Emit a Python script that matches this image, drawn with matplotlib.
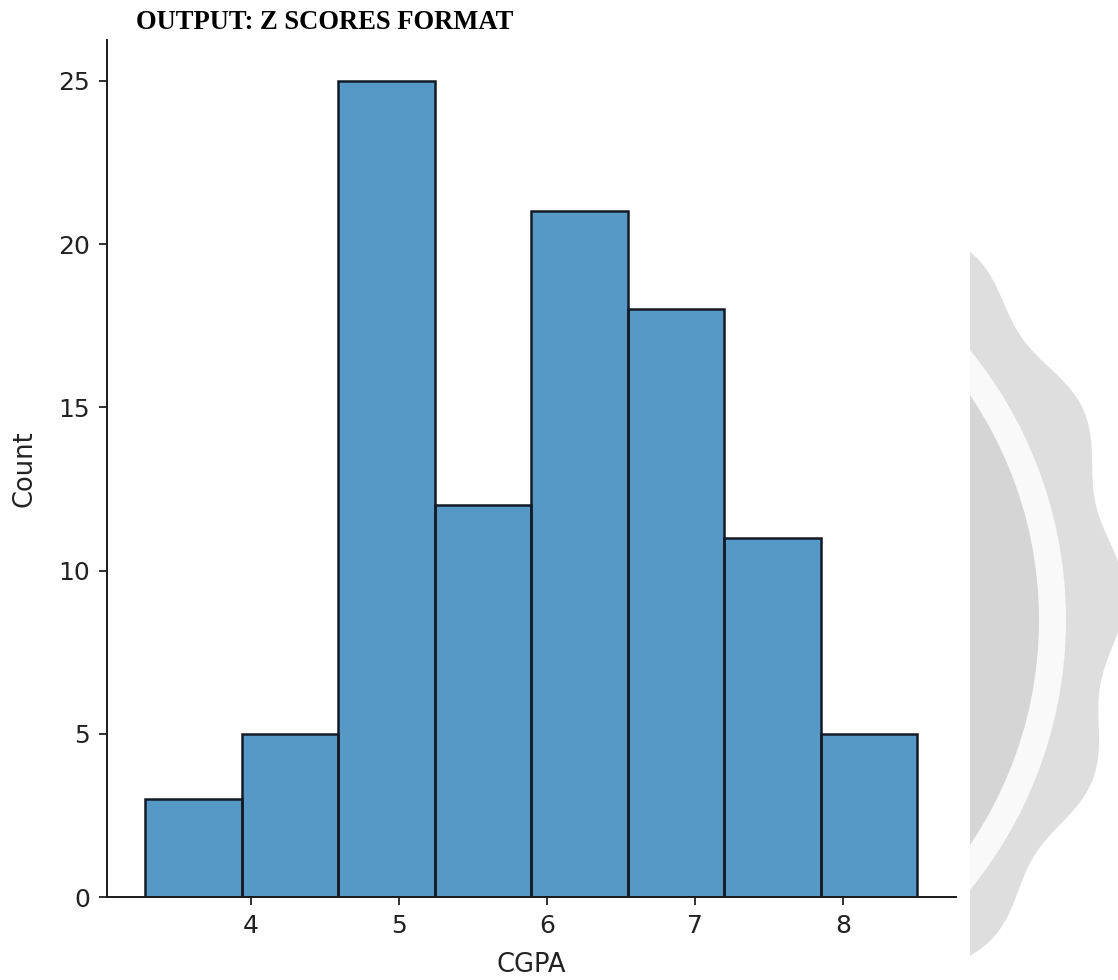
import numpy as np
import matplotlib
matplotlib.use("Agg")
import matplotlib.pyplot as plt
from matplotlib.patches import Polygon, Circle

# histogram data
cgpa_min = 3.29
cgpa_max = 8.50
counts = [3, 5, 25, 12, 21, 18, 11, 5]
x_ticks = [4, 5, 6, 7, 8]
y_ticks = [0, 5, 10, 15, 20, 25]
title = "OUTPUT: Z SCORES FORMAT"

W, H = 1118, 980
fig = plt.figure(figsize=(W / 100, H / 100), dpi=100)

# grey seal watermark on the right edge (decoration, in pixel units)
wm = fig.add_axes([970 / W, 0, 1 - 970 / W, 1])
wm.set_xlim(970, W)
wm.set_ylim(H, 0)
wm.axis("off")
theta = np.linspace(0, 2 * np.pi, 1441)
r = 474 + 9 * np.cos(16 * theta + 0.4)
wm.add_patch(Polygon(np.column_stack([642 + r * np.cos(theta), 606 + r * np.sin(theta)]),
                     closed=True, facecolor="#dedede", edgecolor="none"))
wm.add_patch(Circle((638, 620), 428, facecolor="#f9f9f9", edgecolor="none"))
wm.add_patch(Circle((638, 620), 401, facecolor="#d5d5d5", edgecolor="none"))

# main histogram
ax = fig.add_axes([106.7 / W, (H - 897) / H, (956 - 106.7) / W, (897 - 40) / H])
edges = np.linspace(cgpa_min, cgpa_max, len(counts) + 1)
ax.bar(edges[:-1], counts, width=np.diff(edges), align="edge",
       color="#1f77b4", alpha=0.75, edgecolor="none")
ax.bar(edges[:-1], counts, width=np.diff(edges), align="edge",
       facecolor="none", edgecolor="#141a24", linewidth=1.8)

ax.set_xticks(x_ticks)
ax.set_yticks(y_ticks)
ax.tick_params(labelsize=18, length=6, width=1.3, pad=6, colors="#222222")
for side in ["top", "right"]:
    ax.spines[side].set_visible(False)
for side in ["left", "bottom"]:
    ax.spines[side].set_linewidth(1.4)
    ax.spines[side].set_color("#1a1a1a")
ax.set_xlabel("CGPA", fontsize=18.5, color="#222222", labelpad=10)
ax.set_ylabel("Count", fontsize=18.5, color="#222222", labelpad=15)

fig.text(136 / W, 1 - 29.3 / H, title, family="Liberation Serif", fontweight="bold",
         fontsize=19.2, va="baseline", ha="left", color="black")

fig.savefig("out.png", dpi=100)
